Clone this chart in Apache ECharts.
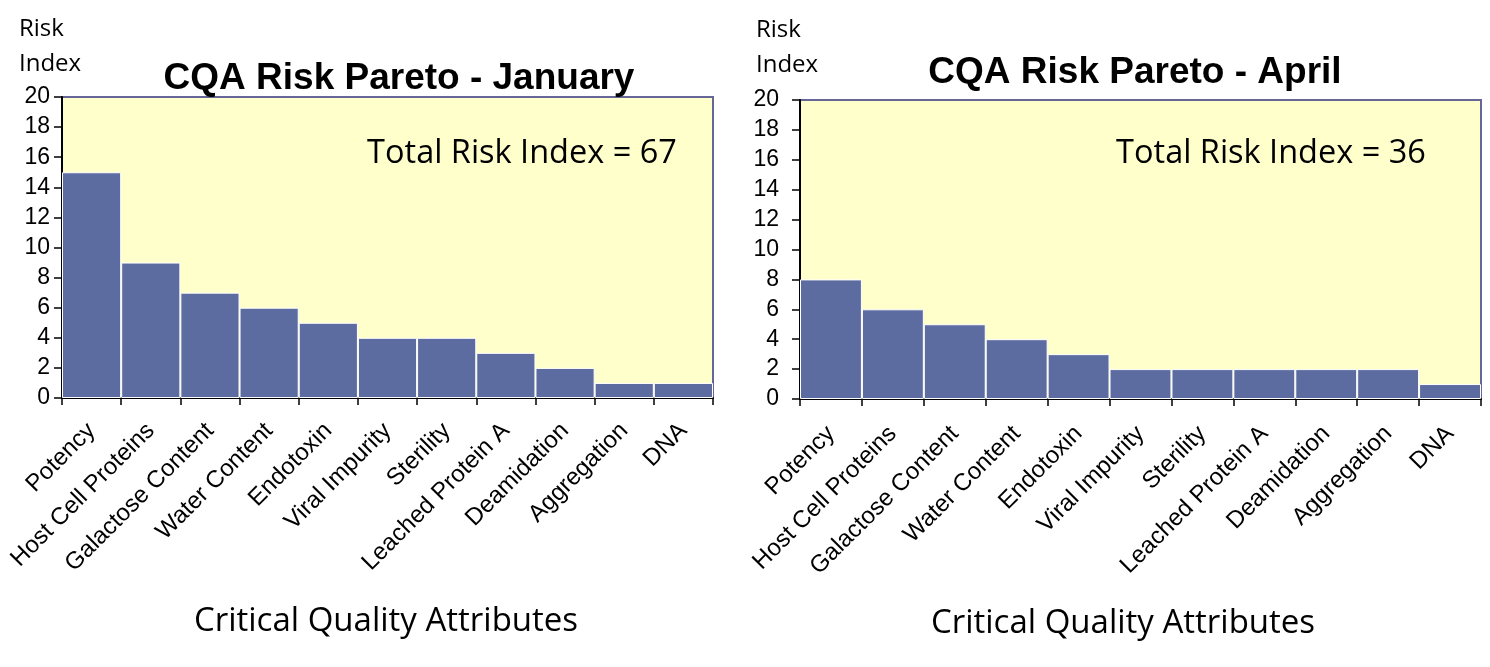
<!DOCTYPE html>
<html>
<head>
<meta charset="utf-8">
<script src="https://cdn.jsdelivr.net/npm/echarts@6/dist/echarts.min.js"></script>
<style>
html,body{margin:0;padding:0;background:#fff;}
#c{width:1490px;height:667px;}
</style>
</head>
<body>
<div id="c"></div>
<script>
var categories = ['Potency','Host Cell Proteins','Galactose Content','Water Content','Endotoxin','Viral Impurity','Sterility','Leached Protein A','Deamidation','Aggregation','DNA'];
var januaryValues = [15, 9, 7, 6, 5, 4, 4, 3, 2, 1, 1];
var aprilValues = [8, 6, 5, 4, 3, 2, 2, 2, 2, 2, 1];
var titles = ['CQA Risk Pareto - January', 'CQA Risk Pareto - April'];
var totals = ['Total Risk Index = 67', 'Total Risk Index = 36'];
var yTicks = [0, 2, 4, 6, 8, 10, 12, 14, 16, 18, 20];

var BAR = '#5C6CA0';
var LABEL_FONT = '"Liberation Sans", Arial, sans-serif';
var TEXT_FONT = '"Open Sans", "Noto Sans", sans-serif';

function xAxis(gi, margin) {
  return {
    type: 'category', gridIndex: gi, data: categories, boundaryGap: true,
    axisLine: {show: true, lineStyle: {color: '#000', width: 2}},
    axisTick: {show: true, length: 7, alignWithLabel: false, lineStyle: {color: '#000', width: 1.5}},
    axisLabel: {rotate: 45, interval: 0, margin: margin, color: '#000', fontFamily: LABEL_FONT, fontSize: 24, padding: [26, 0, 0, 0]}
  };
}
function yAxis(gi, margin) {
  return {
    type: 'value', gridIndex: gi, min: yTicks[0], max: yTicks[yTicks.length - 1], interval: 2,
    splitLine: {show: false},
    axisLine: {show: true, lineStyle: {color: '#000', width: 2}},
    axisTick: {show: true, length: 8, lineStyle: {color: '#000', width: 1.5}},
    axisLabel: {margin: margin, color: '#000', fontFamily: LABEL_FONT, fontSize: 23}
  };
}
function series(i, vals) {
  return {
    type: 'bar', xAxisIndex: i, yAxisIndex: i, data: vals,
    barCategoryGap: '0%', silent: true,
    itemStyle: {color: BAR, borderColor: '#fff', borderWidth: 1}
  };
}
function txt(x, y, s, font, size, weight, align) {
  return {type: 'text', x: x, y: y, z: 100, silent: true,
    style: {text: s, fill: '#000', font: (weight || 'normal') + ' ' + size + 'px ' + font, align: align || 'left', verticalAlign: 'middle'}};
}

var chart = echarts.init(document.getElementById('c'), null, {renderer: 'canvas'});
chart.setOption({
  animation: false,
  backgroundColor: '#fff',
  grid: [
    {left: 62, top: 97, width: 651, height: 301, show: true, backgroundColor: '#FFFFCC', borderColor: '#666699', borderWidth: 2, containLabel: false},
    {left: 800, top: 100, width: 681, height: 299, show: true, backgroundColor: '#FFFFCC', borderColor: '#666699', borderWidth: 2, containLabel: false}
  ],
  xAxis: [xAxis(0, 29), xAxis(1, 31)],
  yAxis: [yAxis(0, 12), yAxis(1, 21)],
  series: [series(0, januaryValues), series(1, aprilValues)],
  graphic: [
    txt(19, 29, 'Risk', TEXT_FONT, 24),
    txt(19, 64, 'Index', TEXT_FONT, 24),
    txt(756, 30, 'Risk', TEXT_FONT, 24),
    txt(756, 65, 'Index', TEXT_FONT, 24),
    txt(399, 79, titles[0], LABEL_FONT, 37, 'bold', 'center'),
    txt(1135, 73, titles[1], LABEL_FONT, 37, 'bold', 'center'),
    txt(522, 154, totals[0], TEXT_FONT, 32.5, 'normal', 'center'),
    txt(1271, 154, totals[1], TEXT_FONT, 32.5, 'normal', 'center'),
    txt(386, 622, 'Critical Quality Attributes', TEXT_FONT, 33, 'normal', 'center'),
    txt(1123, 624, 'Critical Quality Attributes', TEXT_FONT, 33, 'normal', 'center')
  ]
});
</script>
</body>
</html>
